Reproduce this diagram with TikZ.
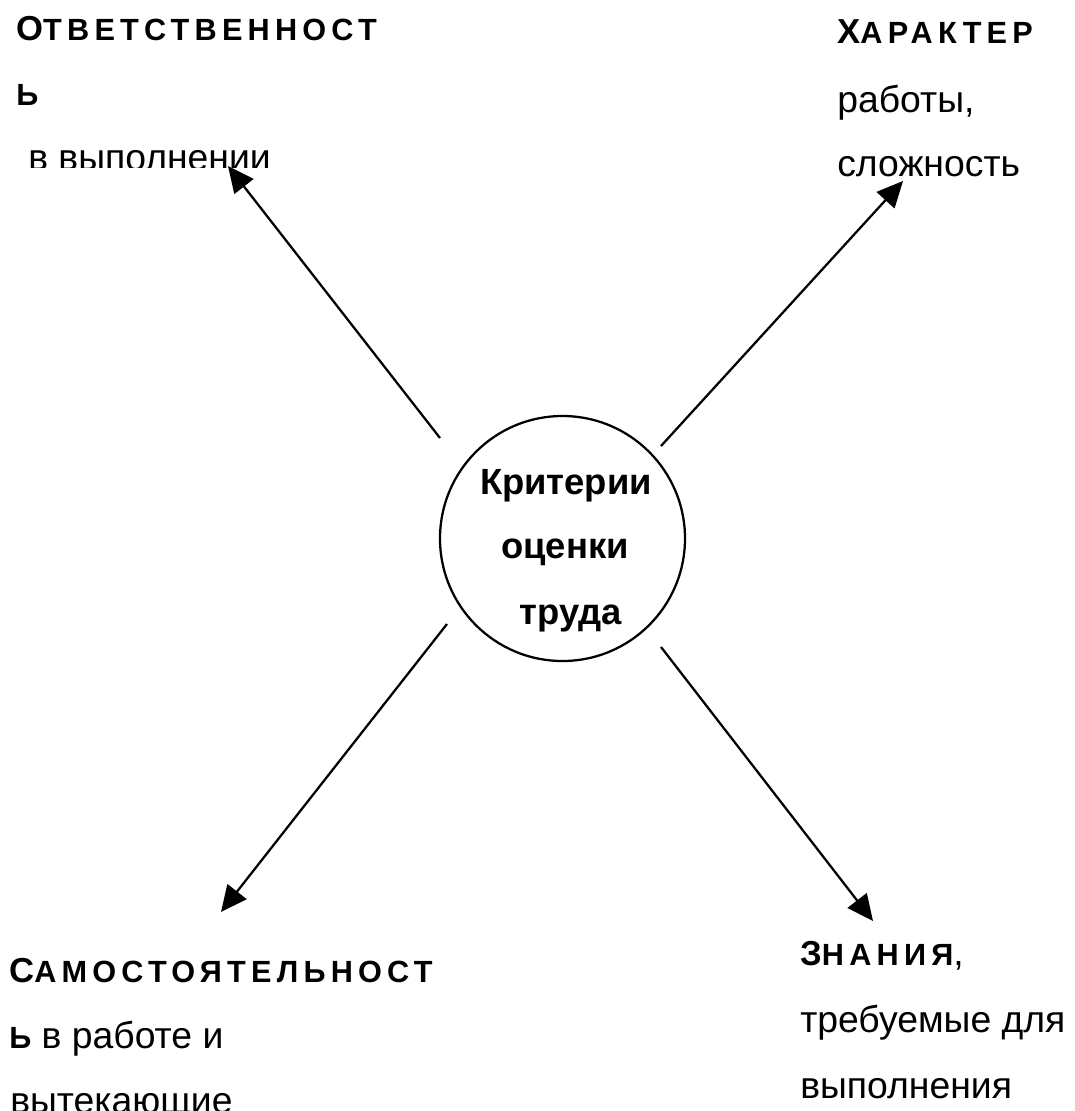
\documentclass[tikz,border=0pt]{standalone}
\usepackage{fontspec}
\setmainfont{Liberation Sans}
\newfontfamily\spc[LetterSpace=17]{Liberation Sans}
\usetikzlibrary{arrows.meta}
\newcommand\hdA[2]{{\spc\bfseries\fontsize{26}{26}\selectfont #1\fontsize{23}{23}\selectfont #2}}
\newcommand\hdB[1]{{\spc\bfseries\fontsize{23}{23}\selectfont #1}}
\begin{document}
\begin{tikzpicture}[x=0.75pt,y=-0.75pt,
  txt/.style={inner sep=0pt, anchor=base west, font=\fontsize{28}{28}\selectfont},
  ctxt/.style={inner sep=0pt, anchor=base, font=\bfseries\fontsize{27.3}{27.3}\selectfont},
  conn/.style={line width=1.7pt, -{Triangle[length=19.5pt,width=18pt]}},
  hub/.style={circle, draw, line width=1.7pt, minimum size=183.75pt, inner sep=0pt}
  ]
\useasboundingbox (0,0) rectangle (1075,1111);
\begin{scope}
\clip (0,0) rectangle (1075,1111);
% centre
\node[hub] (c) at (562.5,538.5) {};
\node[ctxt] (c1) at (566,494) {Критерии};
\node[ctxt] (c2) at (565,558) {оценки};
\node[ctxt] (c3) at (571,624) {труда};
% top left
\node[txt] (tl1) at (16,40) {\hdA{О}{ТВЕТСТВЕННОСТ}};
\node[txt] (tl2) at (16,105) {\hdB{Ь}};
\begin{scope}
\clip (0,0) rectangle (400,167);
\node[txt] (tl3) at (28,170) {в выполнении};
\end{scope}
% top right
\node[txt] (tr1) at (837,43) {\hdA{Х}{АРАКТЕР}};
\node[txt] (tr2) at (837,112) {работы,};
\node[txt] (tr3) at (837,176) {сложность};
% bottom left
\node[txt] (bl1) at (9,982) {\hdA{С}{АМОСТОЯТЕЛЬНОСТ}};
\node[txt] (bl2) at (9,1048) {\hdB{Ь} в работе и};
\node[txt] (bl3) at (10,1113) {вытекающие};
% bottom right
\node[txt] (br1) at (800,965) {\hdA{З}{НАНИЯ},};
\node[txt] (br2) at (800,1032) {требуемые для};
\node[txt] (br3) at (800,1098) {выполнения};
\end{scope}
% connector ends
\coordinate (s1) at (440,438);
\coordinate (t1) at (228,166);
\coordinate (s2) at (661,446);
\coordinate (t2) at (903,181);
\coordinate (s3) at (447,624);
\coordinate (t3) at (221,912);
\coordinate (s4) at (661,647);
\coordinate (t4) at (873,921);
\draw[conn] (s1) -- (t1);
\draw[conn] (s2) -- (t2);
\draw[conn] (s3) -- (t3);
\draw[conn] (s4) -- (t4);
\end{tikzpicture}
\end{document}
